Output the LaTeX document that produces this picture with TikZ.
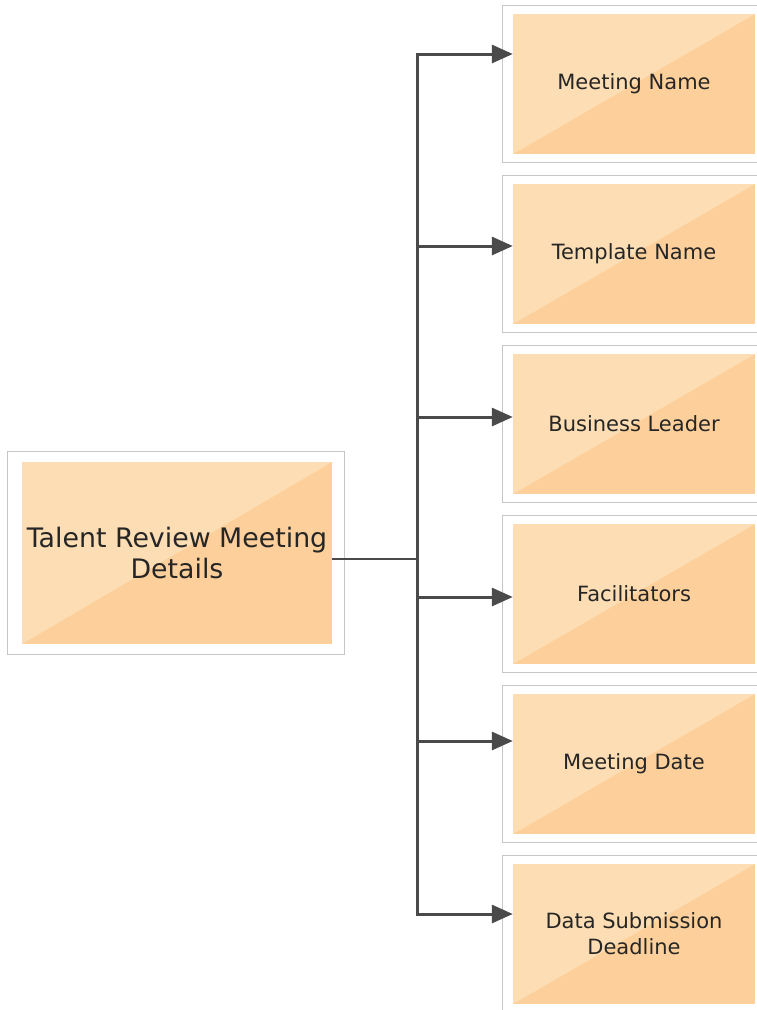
\documentclass[tikz,border=0pt]{standalone}
\usepackage{fontspec}
\setmainfont{DejaVu Sans}
\usepackage{tikz}
\usetikzlibrary{arrows.meta}
\tikzset{>={Triangle[width=18pt,length=21pt]}}
\definecolor{peachlight}{HTML}{FDDDB3}
\definecolor{peachdark}{HTML}{FDD09B}
\definecolor{framegray}{HTML}{C6C6C6}
\definecolor{linkgray}{HTML}{4A4A4A}
\tikzset{
  card/.style={inner sep=0pt, align=center, text=black!85, fill=peachdark,
    path picture={\fill[peachlight] (path picture bounding box.south west)
      -- (path picture bounding box.north east)
      -- (path picture bounding box.north west) -- cycle;}},
  link/.style={draw=linkgray, line width=3pt},
}

\begin{document}
\begin{tikzpicture}[x=1pt,y=-1pt]

\newcommand\cardW{242pt};
\newcommand\cardH{140pt};

\useasboundingbox (0,0) rectangle (756,1010); %% page size

%% left box
\node[card, minimum width=310pt, minimum height=182pt,
  font=\fontsize{26.8}{31}\selectfont] (talent) at (177,553)
  {Talent Review Meeting\\Details};
\draw[framegray, line width=1.2pt]
  ([xshift=-14pt,yshift=10pt]talent.north west)
  rectangle ([xshift=12pt,yshift=-10pt]talent.south east);

%% right boxes
\foreach \n/\cy/\dy/\txt in {1/84/30/{Meeting Name}, 2/254/8/{Template Name},
    3/424/7/{Business Leader}, 4/594/-3/{Facilitators},
    5/764/23/{Meeting Date}, 6/934/20/{Data Submission\\Deadline}}{
  \node[card, minimum width=\cardW, minimum height=\cardH,
    font=\fontsize{21}{26}\selectfont] (b\n) at (634,\cy) {\txt};
  \draw[framegray, line width=1.2pt]
    ([xshift=-10pt,yshift=8pt]b\n.north west)
    rectangle ([xshift=10pt,yshift=-8pt]b\n.south east);
  \coordinate (a\n) at (417,{\cy-\dy});
  \draw[link, ->] (a\n) -- (a\n -| b\n.west);
}

\draw[link, line cap=rect] (a1) -- (a6);
\draw[draw=linkgray, line width=2pt]
  ([yshift=-6pt]talent.east) -- ([yshift=-6pt]talent.east -| a1);

\end{tikzpicture}
\end{document}
